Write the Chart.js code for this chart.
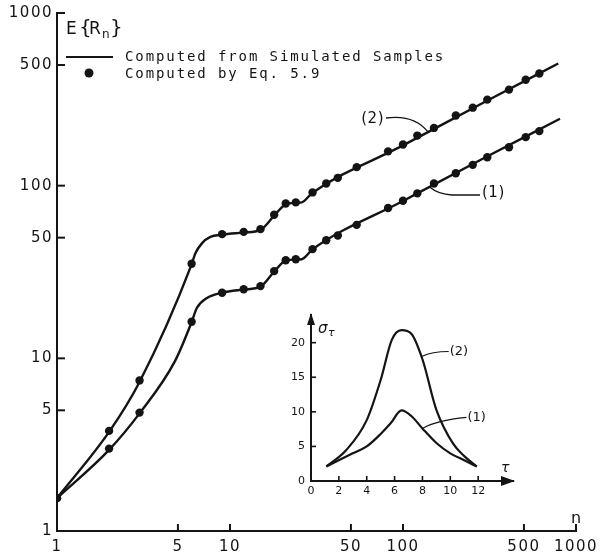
<!DOCTYPE html>
<html><head><meta charset="utf-8">
<script src="https://cdn.jsdelivr.net/npm/chart.js@4/dist/chart.umd.min.js"></script>
<style>
html,body{margin:0;padding:0;background:#fff;}
#wrap{position:relative;width:604px;height:559px;background:#fff;}
#main{position:absolute;left:0;top:0;}
#inset{position:absolute;left:270px;top:300px;}
</style></head><body>
<div id="wrap"><canvas id="main" width="604" height="559"></canvas><canvas id="inset" width="260" height="210"></canvas></div>
<script>
// ---- main chart data (log-log) ----
const xTicks = [1, 5, 10, 50, 100, 500, 1000];
const yTicks = [1, 5, 10, 50, 100, 500, 1000];

// dots: "Computed by Eq. 5.9"
const nDots = [1, 2, 3, 6, 9, 12, 15, 18, 21, 24, 30, 36, 42, 54, 82, 100, 121, 151, 202, 253, 307, 410, 512, 614];
const dots2 = [1.55, 3.8, 7.45, 35.3, 52.4, 54, 56, 67.8, 78.9, 80, 91.4, 103, 111, 128, 158, 173, 195, 216, 255, 283, 315, 360, 411, 446];
const dots1 = [1.55, 3.0, 4.85, 16.3, 24.0, 25.1, 26.2, 32, 37, 37.5, 42.9, 48.3, 51.5, 59.3, 74.2, 81.8, 90.2, 103, 118, 132, 146, 167, 191, 207];

// curves: "Computed from Simulated Samples"
const nLine2 = [1, 2, 3, 6, 6.3, 6.9, 7.7, 9, 12, 15, 18, 21, 24, 26, 30, 100, 300, 790];
const line2  = [1.55, 3.75, 7.3, 35, 40.5, 46.5, 50.5, 52, 53.5, 55.5, 67, 78, 79.5, 80, 91, 171, 307, 510];
const nLine1 = [1, 2, 3, 4.8, 6, 6.42, 7.33, 9, 12, 15, 18, 21, 24, 26, 30, 100, 300, 808];
const line1  = [1.55, 2.95, 4.8, 9.6, 16.2, 19.5, 22.3, 24, 25, 26, 31.8, 36.8, 37.3, 37.5, 42.8, 81.5, 146, 244];

// ---- inset data (linear) ----
const tauTicks = [0, 2, 4, 6, 8, 10, 12];
const sigTicks = [0, 5, 10, 15, 20];
const tau2 = [1.1, 2.5, 4, 5, 5.8, 6.5, 7.2, 8, 9, 10.2, 11, 11.9];
const sig2 = [2.1, 4.4, 8.8, 14.6, 20.4, 21.8, 21.3, 17.6, 10.3, 5.4, 3.6, 2.1];
const tau1 = [1.1, 3, 4, 5, 5.7, 6.5, 7.2, 8, 9, 10, 11, 11.9];
const sig1 = [2.1, 4.0, 5.0, 6.8, 8.3, 10.2, 9.4, 7.6, 5.5, 4.0, 3.0, 2.1];

const INK = '#141414';
const TICKFONT = 'DejaVu Sans';
const MONO = 'DejaVu Sans Mono';
const pts = (xs, ys) => xs.map((x, i) => ({x: x, y: ys[i]}));

const mainDecor = {
  id: 'mainDecor',
  beforeDraw(chart) { chart.ctx.letterSpacing = '1.5px'; },
  afterDraw(chart) {
    const ctx = chart.ctx, xs = chart.scales.x, ys = chart.scales.y, a = chart.chartArea;
    ctx.save();
    ctx.letterSpacing = '0px';
    ctx.strokeStyle = INK; ctx.fillStyle = INK; ctx.lineWidth = 2;
    // inward tick marks
    xTicks.forEach(v => { if (v === 1) return; const px = xs.getPixelForValue(v);
      ctx.beginPath(); ctx.moveTo(px, a.bottom); ctx.lineTo(px, a.bottom - 7); ctx.stroke(); });
    yTicks.forEach(v => { if (v === 1) return; const py = ys.getPixelForValue(v);
      ctx.beginPath(); ctx.moveTo(a.left, py); ctx.lineTo(a.left + 8, py); ctx.stroke(); });
    // axis titles
    ctx.textBaseline = 'middle'; ctx.textAlign = 'left';
    ctx.font = '17px "' + TICKFONT + '"';
    ctx.fillText('E', a.left + 9, a.top + 17);
    ctx.font = '20px "' + TICKFONT + '"';
    ctx.fillText('{', a.left + 22, a.top + 16);
    ctx.font = '17px "' + TICKFONT + '"';
    ctx.fillText('R', a.left + 32, a.top + 17);
    ctx.font = '12px "' + TICKFONT + '"';
    ctx.fillText('n', a.left + 45, a.top + 22);
    ctx.font = '20px "' + TICKFONT + '"';
    ctx.fillText('}', a.left + 53, a.top + 16);
    ctx.font = '16px "' + TICKFONT + '"';
    ctx.fillText('n', a.right - 5, a.bottom - 12);
    // legend
    ctx.beginPath(); ctx.moveTo(66, 57); ctx.lineTo(113, 57); ctx.stroke();
    ctx.beginPath(); ctx.arc(89, 73, 4.5, 0, Math.PI * 2); ctx.fill();
    ctx.font = '14px "' + MONO + '"'; ctx.letterSpacing = '1.9px';
    ctx.fillText('Computed from Simulated Samples', 125, 57);
    ctx.fillText('Computed by Eq. 5.9', 125, 74);
    // curve labels with leaders
    ctx.letterSpacing = '0.5px';
    ctx.font = '15px "' + TICKFONT + '"';
    ctx.lineWidth = 1.3;
    const a2x = xs.getPixelForValue(140), a2y = ys.getPixelForValue(204);
    ctx.textAlign = 'right';
    ctx.fillText('(2)', 384, 119);
    ctx.beginPath(); ctx.moveTo(386, 118); ctx.quadraticCurveTo(414, 114, a2x, a2y); ctx.stroke();
    const a1x = xs.getPixelForValue(143), a1y = ys.getPixelForValue(98);
    ctx.textAlign = 'left';
    ctx.fillText('(1)', 482, 193);
    ctx.beginPath(); ctx.moveTo(480, 195); ctx.lineTo(452, 195); ctx.quadraticCurveTo(438, 194, a1x, a1y); ctx.stroke();
    ctx.restore();
  }
};

new Chart(document.getElementById('main'), {
  type: 'scatter',
  data: { datasets: [
    { label: 'Computed from Simulated Samples (2)', data: pts(nLine2, line2), showLine: true, pointRadius: 0,
      borderColor: INK, borderWidth: 2.4, cubicInterpolationMode: 'monotone' },
    { label: 'Computed from Simulated Samples (1)', data: pts(nLine1, line1), showLine: true, pointRadius: 0,
      borderColor: INK, borderWidth: 2.4, cubicInterpolationMode: 'monotone' },
    { label: 'Computed by Eq. 5.9 (2)', data: pts(nDots, dots2), showLine: false, pointRadius: 4.2,
      backgroundColor: INK, borderColor: INK, borderWidth: 0 },
    { label: 'Computed by Eq. 5.9 (1)', data: pts(nDots, dots1), showLine: false, pointRadius: 4.2,
      backgroundColor: INK, borderColor: INK, borderWidth: 0 }
  ]},
  options: {
    responsive: false, animation: false, events: [],
    layout: { padding: { top: 13, right: 28, left: 0, bottom: 0 } },
    plugins: { legend: { display: false }, tooltip: { enabled: false } },
    scales: {
      x: { type: 'logarithmic', min: 1, max: 1000,
        afterFit(s) { s.height = 28; },
        afterBuildTicks(s) { s.ticks = xTicks.map(v => ({ value: v })); },
        ticks: { callback: v => String(v), autoSkip: false, maxRotation: 0, padding: 7,
          font: { family: TICKFONT, size: 15 }, color: INK },
        grid: { display: false, drawTicks: false },
        border: { display: true, color: INK, width: 2 } },
      y: { type: 'logarithmic', min: 1, max: 1000,
        afterFit(s) { s.width = 57; },
        afterBuildTicks(s) { s.ticks = yTicks.map(v => ({ value: v })); },
        ticks: { callback: v => String(v), autoSkip: false, padding: 4,
          font: { family: TICKFONT, size: 15 }, color: INK },
        grid: { display: false, drawTicks: false },
        border: { display: true, color: INK, width: 2 } }
    }
  },
  plugins: [mainDecor]
});

const insetDecor = {
  id: 'insetDecor',
  afterDraw(chart) {
    const ctx = chart.ctx, xs = chart.scales.x, ys = chart.scales.y, a = chart.chartArea;
    ctx.save();
    ctx.strokeStyle = INK; ctx.fillStyle = INK; ctx.lineWidth = 1.6;
    tauTicks.forEach(v => { if (v === 0) return; const px = xs.getPixelForValue(v);
      ctx.beginPath(); ctx.moveTo(px, a.bottom); ctx.lineTo(px, a.bottom - 5); ctx.stroke(); });
    sigTicks.forEach(v => { if (v === 0) return; const py = ys.getPixelForValue(v);
      ctx.beginPath(); ctx.moveTo(a.left, py); ctx.lineTo(a.left + 5, py); ctx.stroke(); });
    // arrowheads
    ctx.beginPath(); ctx.moveTo(a.right + 2, a.bottom); ctx.lineTo(a.right - 12, a.bottom - 5); ctx.lineTo(a.right - 12, a.bottom + 5); ctx.closePath(); ctx.fill();
    ctx.beginPath(); ctx.moveTo(a.left, a.top - 2); ctx.lineTo(a.left - 4, a.top + 10); ctx.lineTo(a.left + 4, a.top + 10); ctx.closePath(); ctx.fill();
    // axis titles
    ctx.textBaseline = 'middle'; ctx.textAlign = 'left';
    ctx.font = 'italic 15px "' + TICKFONT + '"';
    ctx.fillText('σ', a.left + 7, a.top + 14);
    ctx.font = 'italic 11px "' + TICKFONT + '"';
    ctx.fillText('τ', a.left + 17, a.top + 18);
    ctx.font = 'italic 14px "' + TICKFONT + '"';
    ctx.fillText('τ', a.right - 12, a.bottom - 13);
    // curve labels
    ctx.font = '13px "' + TICKFONT + '"';
    ctx.lineWidth = 1.2;
    const p2x = xs.getPixelForValue(7.95), p2y = ys.getPixelForValue(18.0);
    ctx.beginPath(); ctx.moveTo(p2x, p2y); ctx.quadraticCurveTo(p2x + 10, p2y - 5, p2x + 27, p2y - 5); ctx.stroke();
    ctx.fillText('(2)', p2x + 28, p2y - 5);
    const p1x = xs.getPixelForValue(8), p1y = ys.getPixelForValue(7.6);
    ctx.beginPath(); ctx.moveTo(p1x, p1y); ctx.quadraticCurveTo(p1x + 14, p1y - 8, p1x + 44, p1y - 11); ctx.stroke();
    ctx.fillText('(1)', p1x + 45, p1y - 11);
    ctx.restore();
  }
};

new Chart(document.getElementById('inset'), {
  type: 'scatter',
  data: { datasets: [
    { label: '(2)', data: pts(tau2, sig2), showLine: true, pointRadius: 0, borderColor: INK, borderWidth: 2.2, cubicInterpolationMode: 'monotone' },
    { label: '(1)', data: pts(tau1, sig1), showLine: true, pointRadius: 0, borderColor: INK, borderWidth: 2.2, cubicInterpolationMode: 'monotone' }
  ]},
  options: {
    responsive: false, animation: false, events: [],
    layout: { padding: { top: 15, right: 17, left: 0, bottom: 0 } },
    plugins: { legend: { display: false }, tooltip: { enabled: false } },
    scales: {
      x: { type: 'linear', min: 0, max: 14.5,
        afterFit(s) { s.height = 29; },
        afterBuildTicks(s) { s.ticks = tauTicks.map(v => ({ value: v })); },
        ticks: { autoSkip: false, maxRotation: 0, padding: 4, font: { family: TICKFONT, size: 11 }, color: INK },
        grid: { display: false, drawTicks: false },
        border: { display: true, color: INK, width: 2 } },
      y: { type: 'linear', min: 0, max: 24,
        afterFit(s) { s.width = 41; },
        afterBuildTicks(s) { s.ticks = sigTicks.map(v => ({ value: v })); },
        ticks: { autoSkip: false, padding: 6, font: { family: TICKFONT, size: 11 }, color: INK },
        grid: { display: false, drawTicks: false },
        border: { display: true, color: INK, width: 2 } }
    }
  },
  plugins: [insetDecor]
});
</script>
</body></html>
